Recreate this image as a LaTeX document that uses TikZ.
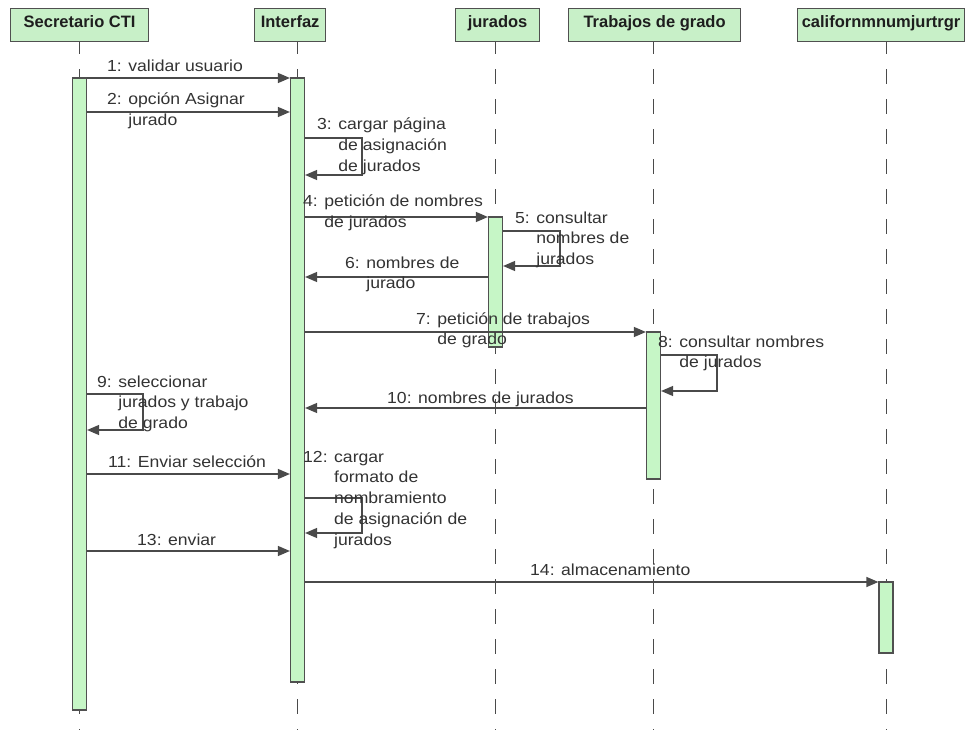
\documentclass[tikz,border=0pt]{standalone}
\usepackage{fontspec}
\setmainfont{Liberation Sans}[FakeStretch=1.1]
\newfontfamily\headfont{Liberation Sans}
\usetikzlibrary{arrows.meta}

\definecolor{boxGreen}{HTML}{C8F0C8}
\definecolor{actGreen}{HTML}{C6F6C6}
\definecolor{boxEdge}{HTML}{505050}
\definecolor{lineGray}{HTML}{4A4A4A}
\definecolor{txtGray}{HTML}{333333}
\definecolor{headText}{HTML}{1E1E1E}

% multi-line message label, baseline on the first line
\newcommand\msglines[1]{\vtop{\baselineskip=20.8pt\halign{##\hfil\cr#1\crcr}}}

\tikzset{
  header/.style={draw=boxEdge, fill=boxGreen, line width=1.2pt, anchor=north west,
    inner xsep=0pt, inner ysep=0pt, text height=19pt, text depth=14pt,
    font=\headfont\bfseries\fontsize{16.5}{20}\selectfont, text=headText},
  lifeline/.style={draw=lineGray, line width=1pt, dash pattern=on 15pt off 15pt, dash phase=3pt},
  act/.style={draw=boxEdge, fill=actGreen, line width=1.2pt, minimum width=14pt, inner sep=0pt},
  msg/.style={draw=lineGray, line width=1.3pt, -{Triangle[length=12pt,width=10pt]}},
  lbl/.style={anchor=base west, inner sep=0pt, text=txtGray, font=\fontsize{16}{20.8}\selectfont},
}

\begin{document}
\begin{tikzpicture}[x=1pt, y=-1pt]
  \useasboundingbox (0,0) rectangle (969,730);
  \fill[white] (0,0) rectangle (969,730);

  % object headers
  \node[header, minimum width=138pt] (hS) at (10,8) {Secretario CTI};
  \node[header, minimum width=71pt]  (hI) at (254,8) {Interfaz};
  \node[header, minimum width=84pt]  (hJ) at (455,8) {jurados};
  \node[header, minimum width=172pt] (hT) at (568,8) {Trabajos de grado};
  \node[header, minimum width=167pt] (hC) at (797,8) {californmnumjurtrgr};

  % lifeline anchors
  \coordinate (xS) at (79.5,0);
  \coordinate (xI) at (297.5,0);
  \coordinate (xJ) at (495.5,0);
  \coordinate (xT) at (653.5,0);
  \coordinate (xC) at (886,0);
  \coordinate (bottom) at (0,732);

  % lifelines
  \draw[lifeline] (xS |- hS.south) -- (xS |- bottom);
  \draw[lifeline] (xI |- hI.south) -- (xI |- bottom);
  \draw[lifeline] (xJ |- hJ.south) -- (xJ |- bottom);
  \draw[lifeline] (xT |- hT.south) -- (xT |- bottom);
  \draw[lifeline] (xC |- hC.south) -- (xC |- bottom);

  % activation bars
  \node[act, minimum height=632pt] (aS) at (79.5,394) {};
  \node[act, minimum height=604pt] (aI) at (297.5,380) {};
  \node[act, minimum height=130pt] (aJ) at (495.5,282) {};
  \node[act, minimum height=147pt] (aT) at (653.5,405.5) {};
  \node[act, minimum height=71pt]  (aC) at (886,617.5) {};

  % messages
  \draw[msg] (aS.east |- 0,78)  -- (aI.west |- 0,78);
  \draw[msg] (aS.east |- 0,112) -- (aI.west |- 0,112);
  \draw[msg] (aI.east |- 0,138) -- (362,138) -- (362,175) -- (aI.east |- 0,175);
  \draw[msg] (aI.east |- 0,217) -- (aJ.west |- 0,217);
  \draw[msg] (aJ.east |- 0,231) -- (560,231) -- (560,266) -- (aJ.east |- 0,266);
  \draw[msg] (aJ.west |- 0,277) -- (aI.east |- 0,277);
  \draw[msg] (aI.east |- 0,332) -- (aT.west |- 0,332);
  \draw[msg] (aT.east |- 0,355) -- (717,355) -- (717,391) -- (aT.east |- 0,391);
  \draw[msg] (aS.east |- 0,394) -- (143,394) -- (143,430) -- (aS.east |- 0,430);
  \draw[msg] (aT.west |- 0,408) -- (aI.east |- 0,408);
  \draw[msg] (aS.east |- 0,474) -- (aI.west |- 0,474);
  \draw[msg] (aI.east |- 0,498) -- (362,498) -- (362,533) -- (aI.east |- 0,533);
  \draw[msg] (aS.east |- 0,551) -- (aI.west |- 0,551);
  \draw[msg] (aI.east |- 0,582) -- (aC.west |- 0,582);

  % message labels
  \node[lbl] (t1)  at (107,72)  {1: validar usuario};
  \node[lbl] (t2)  at (107,105) {\msglines{2: opción Asignar\cr \hphantom{2: }jurado}};
  \node[lbl] (t3)  at (317,130) {\msglines{3: cargar página\cr \hphantom{3: }de asignación\cr \hphantom{3: }de jurados}};
  \node[lbl] (t4)  at (303,207) {\msglines{4: petición de nombres\cr \hphantom{4: }de jurados}};
  \node[lbl] (t5)  at (515,223) {\msglines{5: consultar\cr \hphantom{5: }nombres de\cr \hphantom{5: }jurados}};
  \node[lbl] (t6)  at (345,268) {\msglines{6: nombres de\cr \hphantom{6: }jurado}};
  \node[lbl] (t7)  at (416,324) {\msglines{7: petición de trabajos\cr \hphantom{7: }de grado}};
  \node[lbl] (t8)  at (658,347) {\msglines{8: consultar nombres\cr \hphantom{8: }de jurados}};
  \node[lbl] (t9)  at (97,387)  {\msglines{9: seleccionar\cr \hphantom{9: }jurados y trabajo\cr \hphantom{9: }de grado}};
  \node[lbl] (t10) at (387,403) {10: nombres de jurados};
  \node[lbl] (t11) at (108,467) {11: Enviar selección};
  \node[lbl] (t12) at (303,462) {\msglines{12: cargar\cr \hphantom{12: }formato de\cr \hphantom{12: }nombramiento\cr \hphantom{12: }de asignación de\cr \hphantom{12: }jurados}};
  \node[lbl] (t13) at (137,545) {13: enviar};
  \node[lbl] (t14) at (530,575) {14: almacenamiento};
\end{tikzpicture}
\end{document}
